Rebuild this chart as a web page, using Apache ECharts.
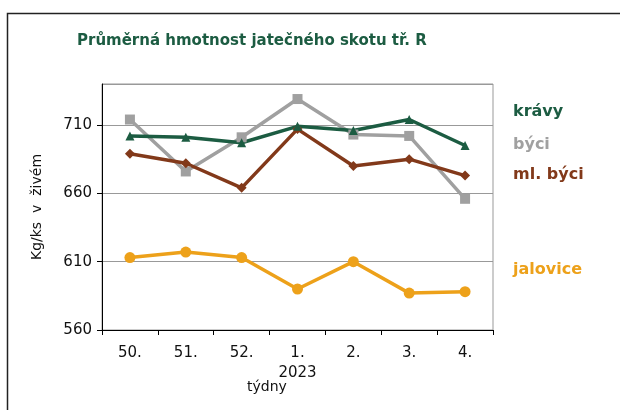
<!DOCTYPE html>
<html>
<head>
<meta charset="utf-8">
<script src="https://cdn.jsdelivr.net/npm/echarts@6/dist/echarts.min.js"></script>
<style>
    html, body { margin: 0; padding: 0; background: #fff; }
    #main { width: 620px; height: 410px; }
</style>
</head>
<body>
<div id="main"></div>
<script>
    // týdny
    var weeks = ['50.', '51.', '52.', '1.\n2023', '2.', '3.', '4.'];
    var yTicks = [560, 610, 660, 710];
    // kg/ks v živém
    var kravy = [702, 701, 697, 709, 706, 714, 695];
    var byci = [714, 676, 701, 729, 703, 702, 656];
    var mlByci = [689, 682, 664, 707, 680, 685, 673];
    var jalovice = [613, 617, 613, 590, 610, 587, 588];

    var font = 'DejaVu Sans';
    var myChart = echarts.init(document.getElementById('main'));

    function line(name, data, color, symbol, size) {
        return {
            name: name,
            type: 'line',
            data: data,
            symbol: symbol,
            symbolSize: size,
            showSymbol: true,
            lineStyle: { color: color, width: 3.5 },
            itemStyle: { color: color },
            z: 3
        };
    }

    var option = {
        animation: false,
        backgroundColor: '#fff',
        grid: {
            left: 102, top: 84, width: 391, height: 246,
            show: true, borderColor: '#999', borderWidth: 1
        },
        xAxis: {
            type: 'category',
            data: weeks,
            boundaryGap: true,
            axisLine: { lineStyle: { color: '#000', width: 1 } },
            axisTick: { show: true, length: 5, lineStyle: { color: '#000' } },
            axisLabel: {
                color: '#111', fontFamily: font, fontSize: 15,
                margin: 13, lineHeight: 20
            }
        },
        yAxis: {
            type: 'value',
            min: yTicks[0],
            max: 740,
            interval: 50,
            name: 'Kg/ks  v  živém',
            nameLocation: 'middle',
            nameGap: 58,
            nameTextStyle: { color: '#111', fontFamily: font, fontSize: 14 },
            axisLine: { show: true, lineStyle: { color: '#000', width: 1 } },
            axisTick: { show: true, length: 5, lineStyle: { color: '#000' } },
            axisLabel: {
                color: '#111', fontFamily: font, fontSize: 15, margin: 10,
                showMaxLabel: false
            },
            splitLine: { lineStyle: { color: '#999', width: 1 } }
        },
        series: [
            line('býci', byci, '#a0a0a0', 'rect', 10),
            line('ml. býci', mlByci, '#82391a', 'diamond', 10),
            line('jalovice', jalovice, '#eda11a', 'circle', 11),
            line('krávy', kravy, '#1c5c42', 'triangle', 9)
        ],
        graphic: [
            {
                type: 'rect', silent: true,
                shape: { x: 7.5, y: 13.5, width: 700, height: 500 },
                style: { fill: 'none', stroke: '#222', lineWidth: 1.5 }
            },
            {
                type: 'text', left: 77, top: 34,
                style: {
                    text: 'Průměrná hmotnost jatečného skotu tř. R',
                    fill: '#1c5c42', font: 'bold 15px "DejaVu Sans"'
                }
            },
            { type: 'text', left: 513, top: 104, style: { text: 'krávy', fill: '#1c5c42', font: 'bold 16px "DejaVu Sans"' } },
            { type: 'text', left: 513, top: 137, style: { text: 'býci', fill: '#a0a0a0', font: 'bold 16px "DejaVu Sans"' } },
            { type: 'text', left: 513, top: 167, style: { text: 'ml. býci', fill: '#82391a', font: 'bold 16px "DejaVu Sans"' } },
            { type: 'text', left: 513, top: 262, style: { text: 'jalovice', fill: '#eda11a', font: 'bold 16px "DejaVu Sans"' } },
            { type: 'text', left: 247, top: 380, style: { text: 'týdny', fill: '#111', font: '14px "DejaVu Sans"' } }
        ]
    };
    myChart.setOption(option);
</script>
</body>
</html>
